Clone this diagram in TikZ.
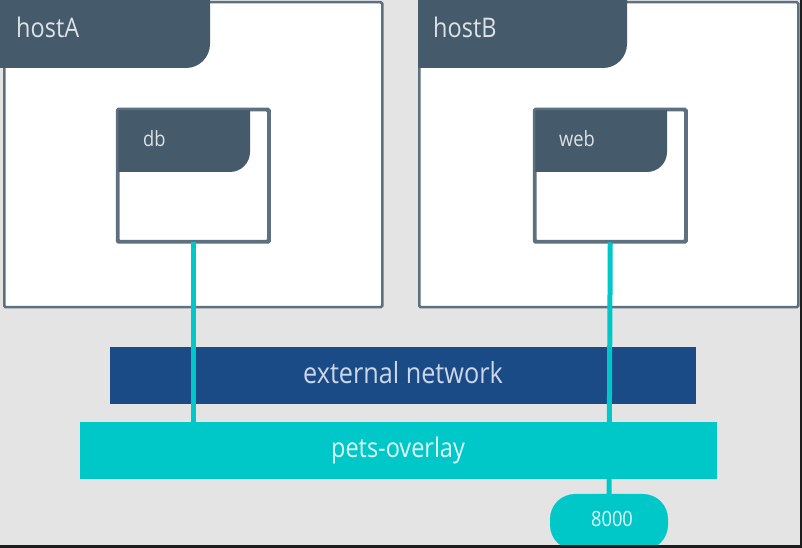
\documentclass[tikz,border=0pt]{standalone}
\usepackage{fontspec}
\setmainfont{Open Sans}[FakeStretch=0.87]
\definecolor{bg}{HTML}{E4E4E4}
\definecolor{slate}{HTML}{455A6B}
\definecolor{edge}{HTML}{5D7080}
\definecolor{extblue}{HTML}{1B4B87}
\definecolor{cyanx}{HTML}{00C8C8}
\definecolor{hdrtext}{HTML}{DDE2E6}
\definecolor{exttext}{HTML}{CBD7E6}
\definecolor{cyantext}{HTML}{E4FAFA}
\definecolor{darkstrip}{HTML}{1D1D1D}
\tikzset{
  x=1pt, y=1pt,
  hostbox/.style={draw=edge, line width=2.5pt, fill=white, rounded corners=1.5pt, inner sep=0pt, anchor=north west},
  hdr/.style={fill=slate},
  hosttext/.style={text=hdrtext, font=\fontsize{27}{30}\selectfont, inner sep=0pt, anchor=base west},
  ctrtext/.style={text=hdrtext, font=\fontsize{21}{24}\selectfont, inner sep=0pt, anchor=base west},
  bar/.style={inner sep=0pt, minimum height=57pt},
  link/.style={draw=cyanx, line width=5pt},
}
\begin{document}
\begin{tikzpicture}
\useasboundingbox (0,0) rectangle (802,548);
\clip (0,0) rectangle (802,548);
\fill[bg] (0,0) rectangle (802,548);
% hosts
\node[hostbox, minimum width=378pt, minimum height=305pt] (hostA) at (3,547) {};
\fill[hdr] (0,549) -- (210,549) -- (210,504) arc[start angle=0, end angle=-90, radius=24] -- (0,480) -- cycle;
\node[hosttext] (hostAlbl) at (16,510) {hostA};
\node[hostbox, minimum width=379pt, minimum height=305pt] (hostB) at (418,547) {};
\fill[hdr] (418,549) -- (627,549) -- (627,504) arc[start angle=0, end angle=-90, radius=24] -- (418,480) -- cycle;
\node[hosttext] (hostBlbl) at (433,510) {hostB};
% containers
\node[hostbox, minimum width=150pt, minimum height=131pt] (db) at (117,439) {};
\fill[hdr] (117,439) -- (250,439) -- (250,396) arc[start angle=0, end angle=-90, radius=20] -- (117,376) -- cycle;
\draw[edge, line width=2.5pt, rounded corners=1.5pt] (db.north west) rectangle (db.south east);
\node[ctrtext] (dblbl) at (143,401) {db};
\node[hostbox, minimum width=150pt, minimum height=131pt] (web) at (534,439) {};
\fill[hdr] (534,439) -- (667,439) -- (667,396) arc[start angle=0, end angle=-90, radius=20] -- (534,376) -- cycle;
\draw[edge, line width=2.5pt, rounded corners=1.5pt] (web.north west) rectangle (web.south east);
\node[ctrtext] (weblbl) at (559,401) {web};
% networks
\node[bar, fill=extblue, minimum width=586pt] (ext) at (403,172.5) {};
\node[text=exttext, font=\fontsize{29}{32}\selectfont, inner sep=0pt, anchor=base] (extlbl) at (403,164) {external network};
\node[bar, fill=cyanx, minimum width=637pt] (pets) at (398.5,97.5) {};
\node[rounded corners=25pt, fill=cyanx, minimum width=118pt, minimum height=56pt, inner sep=0pt] (port) at (609,26) {};
\draw[link] (db.south) -- (db.south |- pets.north);
\draw[link] (web.south) -- (port.north);
\node[text=cyantext, font=\fontsize{27}{30}\selectfont, inner sep=0pt, anchor=base] (petslbl) at (398,90) {pets-overlay};
\node[text=cyantext, font=\fontsize{21}{24}\selectfont, inner sep=0pt, anchor=base] (portlbl) at (612,21) {8000};
% frame strips
\fill[darkstrip] (0,0) rectangle (802,3);
\fill[darkstrip] (800,0) rectangle (802,548);
\end{tikzpicture}
\end{document}
